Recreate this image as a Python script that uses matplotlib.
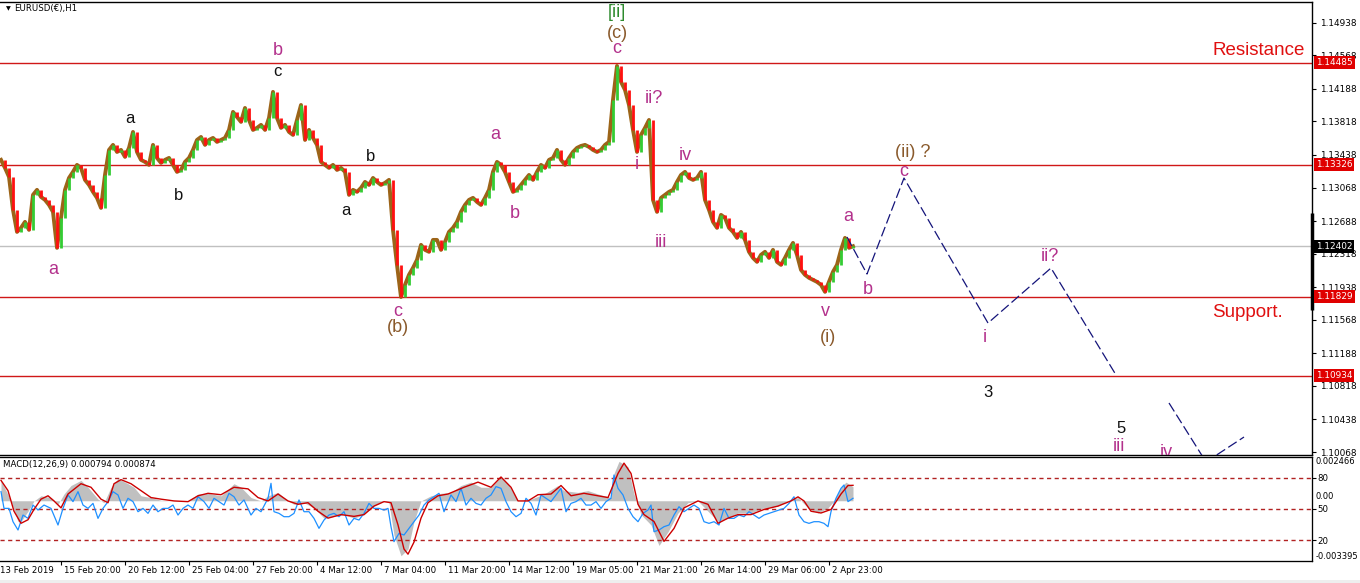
import numpy as np
import matplotlib.pyplot as plt
import matplotlib.transforms as mtransforms
from matplotlib.patches import Rectangle

plt.rcParams['font.family'] = ['DejaVu Sans']

# EURUSD H1 closes, every 4 bars (bar index = hour of trading)
bar_step = 4
closes = [
    1.13382, 1.13291, 1.13189, 1.12815, 1.12565, 1.12611, 1.12679, 1.12588, 1.12985, 1.13042,
    1.12962, 1.12928, 1.12871, 1.12792, 1.12384, 1.12724, 1.13042, 1.13177, 1.13246, 1.13325,
    1.13291, 1.13155, 1.13098, 1.13019, 1.12951, 1.12837, 1.13211, 1.13495, 1.13552, 1.13472,
    1.13495, 1.13416, 1.13518, 1.13699, 1.13472, 1.13382, 1.13359, 1.13325, 1.13552, 1.13404,
    1.13348, 1.13382, 1.13404, 1.13325, 1.13246, 1.13268, 1.13359, 1.13404, 1.13495, 1.13608,
    1.13642, 1.13552, 1.13608, 1.13631, 1.13586, 1.13608, 1.13631, 1.13722, 1.13926, 1.13869,
    1.13813, 1.13971, 1.13835, 1.13722, 1.13745, 1.13779, 1.13722, 1.13858, 1.14153, 1.13858,
    1.13745, 1.13779, 1.13699, 1.13665, 1.13835, 1.14005, 1.13608, 1.13722, 1.13631, 1.13552,
    1.13359, 1.13325, 1.13291, 1.13325, 1.13268, 1.13291, 1.13246, 1.12985, 1.13042, 1.13019,
    1.13064, 1.13132, 1.13098, 1.13177, 1.13132, 1.13098, 1.13121, 1.13155, 1.12588, 1.12191,
    1.11826, 1.11964, 1.12078, 1.12157, 1.12248, 1.12418, 1.12361, 1.12339, 1.12474, 1.12474,
    1.12361, 1.12452, 1.12565, 1.12611, 1.12679, 1.12792, 1.12871, 1.12928, 1.12951, 1.12905,
    1.12871, 1.12951, 1.13042, 1.13246, 1.13359, 1.13325, 1.13246, 1.13132, 1.13019, 1.13042,
    1.13098, 1.13155, 1.13211, 1.13155, 1.13246, 1.13325, 1.13291, 1.13382, 1.13404, 1.13495,
    1.13382, 1.13325, 1.13404, 1.13472, 1.13518, 1.13540, 1.13552, 1.13529, 1.13495, 1.13472,
    1.13495, 1.13552, 1.13586, 1.14062, 1.14448, 1.14267, 1.14176, 1.14005, 1.13722, 1.13472,
    1.13665, 1.13745, 1.13835, 1.12928, 1.12792, 1.12951, 1.12985, 1.13019, 1.13042, 1.13132,
    1.13211, 1.13246, 1.13177, 1.13155, 1.13177, 1.13246, 1.12928, 1.12815, 1.12679, 1.12611,
    1.12758, 1.12724, 1.12611, 1.12565, 1.12497, 1.12565, 1.12474, 1.12339, 1.12270, 1.12225,
    1.12305, 1.12339, 1.12270, 1.12361, 1.12225, 1.12191, 1.12270, 1.12361, 1.12440, 1.12305,
    1.12134, 1.12078, 1.12044, 1.12021, 1.11998, 1.11964, 1.11885, 1.11998, 1.12112, 1.12191,
    1.12361, 1.12497, 1.12384, 1.12402,
]

# MACD(12,26,9): main (grey histogram) and signal (red), in units of 0.001
hist_x = [0, 10, 17, 20, 27, 33, 40, 50, 57, 63, 70, 80, 87, 97, 103, 110, 117, 127, 133, 140,
          150, 160, 173, 187, 197, 207, 220, 233, 240, 250, 260, 267, 277, 287, 293, 303, 313, 323, 333, 343,
          353, 363, 373, 383, 388, 393, 400, 407, 413, 420, 430, 440, 450, 460, 470, 480, 490, 500, 507, 517,
          530, 543, 557, 563, 577, 587, 597, 610, 613, 618, 627, 633, 640, 650, 658, 667, 677, 687, 697, 707,
          717, 727, 737, 750, 763, 777, 787, 797, 807, 817, 827, 833, 840, 845, 852]
hist_milli = [1.15, 0.0, -1.17, -1.17, -0.59, -0.01, 0.28, 0.18, -0.20, 0.38, 0.86, 1.15, 0.76, 0.09, -0.11, 0.76, 1.25, 0.96, 0.76, 0.28,
              0.18, 0.03, -0.01, -0.01, 0.38, 0.42, 0.28, 0.96, 0.76, 0.18, -0.01, 0.28, 0.47, -0.01, -0.20, -0.11, -0.40, -0.98, -0.88, -0.78,
              -0.98, -0.78, -0.30, -0.01, -0.11, -1.94, -3.10, -2.72, -1.17, -0.01, 0.28, 0.42, 0.47, 0.86, 1.05, 0.76, 0.76, 1.34, 0.96, -0.01,
              0.09, 0.38, 0.86, 0.57, 0.47, 0.57, 0.38, 0.18, 1.54, 2.22, 1.92, 0.38, -0.78, -1.36, -2.52, -1.75, -0.69, -0.11, -0.01, -0.59,
              -1.17, -0.98, -0.69, -0.69, -0.40, -0.30, -0.01, 0.18, -0.40, -0.69, -0.40, -0.01, 0.76, 1.05, 0.79]
sig_x = [0, 7, 13, 20, 27, 33, 40, 47, 53, 60, 67, 80, 90, 100, 107, 113, 120, 130, 140, 150,
         160, 173, 187, 197, 207, 220, 233, 247, 257, 267, 277, 287, 297, 307, 317, 327, 340, 353, 363, 373,
         383, 390, 397, 403, 407, 413, 420, 427, 437, 447, 463, 477, 490, 500, 510, 517, 527, 537, 550, 560,
         570, 583, 597, 607, 617, 623, 630, 637, 643, 653, 663, 673, 683, 697, 707, 717, 727, 737, 750, 763,
         777, 790, 797, 803, 810, 820, 830, 840, 847, 852]
sig_milli = [1.15, 0.57, -0.59, -1.27, -1.07, -0.49, 0.09, 0.28, -0.01, -0.40, 0.38, 0.96, 0.76, 0.09, -0.11, 0.96, 1.19, 0.96, 0.57, 0.18,
             0.09, -0.01, -0.05, 0.28, 0.42, 0.34, 0.76, 0.67, 0.18, -0.01, 0.38, -0.01, -0.20, -0.11, -0.59, -0.98, -0.78, -0.88, -0.78, -0.30,
             -0.05, -0.11, -1.36, -2.72, -3.01, -2.33, -0.98, -0.11, 0.28, 0.38, 0.76, 1.05, 0.76, 1.34, 0.76, -0.01, -0.01, 0.34, 0.38, 0.86,
             0.28, 0.42, 0.28, 0.18, 1.54, 2.12, 1.54, -0.20, -0.78, -1.17, -2.29, -1.56, -0.40, -0.01, -0.20, -1.27, -0.98, -0.78, -0.78, -0.49,
             -0.30, -0.01, 0.22, -0.01, -0.59, -0.69, -0.49, 0.38, 0.86, 0.87]

# oscillator on the 0-100 scale (blue line, levels 80/50/20)
osc_x = [0, 3, 8, 12, 17, 22, 27, 32, 37, 43, 50, 57, 62, 67, 72, 77, 82, 87, 92, 97,
         102, 107, 112, 117, 122, 127, 132, 137, 142, 147, 152, 157, 162, 167, 172, 177, 182, 187, 192, 197,
         203, 208, 213, 218, 223, 228, 233, 238, 243, 250, 255, 260, 267, 270, 273, 278, 283, 288, 293, 298,
         303, 308, 313, 318, 323, 328, 333, 338, 343, 348, 353, 358, 363, 368, 373, 378, 383, 387, 390, 393,
         398, 403, 408, 413, 418, 423, 428, 433, 438, 443, 448,
         450, 455, 460, 465, 470, 475, 480, 485, 490, 495, 500, 505, 510, 515, 520, 525, 530, 535, 540, 545,
         550, 555, 560, 565, 570, 575, 580, 585, 590, 595, 600, 605, 610,
         613, 617, 622, 627, 632, 637, 642, 647, 650, 653, 658, 663, 668, 673, 678, 683, 688, 693, 698, 703,
         708, 713, 718, 723, 728, 733, 738, 743, 748, 753, 758, 763, 768, 773, 778, 783, 788, 793, 798, 803,
         808, 813, 818, 823, 827, 830, 835, 840, 843, 847, 852]
osc_vals = [66.7, 50.6, 50.6, 37.8, 29.8, 44.2, 41.0, 53.8, 49.0, 53.8, 50.6, 34.6, 50.6, 63.5, 57.1, 66.7, 53.8, 50.6, 55.4, 41.0,
            50.6, 57.1, 66.7, 63.5, 50.6, 60.3, 57.1, 47.4, 50.6, 45.8, 53.8, 47.4, 50.6, 50.6, 53.8, 44.2, 50.6, 53.8, 50.6, 61.8,
            57.1, 50.6, 60.3, 57.1, 53.8, 65.1, 61.8, 53.8, 58.7, 44.2, 50.6, 47.4, 60.3, 74.7, 47.4, 45.8, 42.6, 42.6, 45.8, 58.7,
            47.4, 47.4, 41.0, 31.4, 39.4, 44.2, 45.8, 42.6, 47.4, 34.6, 41.0, 39.4, 45.8, 55.4, 50.6, 50.6, 49.0, 50.6, 33.0, 18.6,
            26.6, 25.0, 31.4, 37.8, 44.2, 53.8, 58.7, 61.8, 65.1, 47.4, 58.7,
            63.5, 57.1, 69.9, 53.8, 60.3, 55.4, 53.8, 60.3, 63.5, 71.5, 69.9, 57.1, 47.4, 42.6, 45.8, 60.3, 55.4, 44.2, 63.5, 60.3,
            57.1, 63.5, 69.9, 47.4, 55.4, 57.1, 60.3, 53.8, 53.8, 57.1, 50.6, 57.1, 60.3,
            82.7, 69.9, 63.5, 50.6, 42.6, 37.8, 45.8, 49.0, 53.8, 28.2, 29.8, 33.0, 34.6, 44.2, 52.2, 47.4, 50.6, 53.8, 50.6, 37.8,
            36.2, 37.8, 34.6, 50.6, 41.0, 41.0, 44.2, 42.6, 47.4, 44.2, 41.0, 44.2, 45.8, 47.4, 49.0, 50.6, 55.4, 61.8, 44.2, 37.8,
            36.2, 37.8, 37.8, 36.2, 33.0, 47.4, 60.3, 69.9, 73.1, 57.1, 60.3]
osc_levels = [80, 50, 20]

price_ticks = [1.14938, 1.14568, 1.14188, 1.13818, 1.13438, 1.13068, 1.12688,
               1.12318, 1.11938, 1.11568, 1.11188, 1.10818, 1.10438, 1.10068]
sr_levels = [1.14485, 1.13326, 1.11829, 1.10934]
last_price = 1.12402
range_marker = [1.11679, 1.12779]

# projected wave path (dashed)
proj_a_x = [846, 866, 903, 987, 1050, 1115]
proj_a_y = [1.12507, 1.12087, 1.13176, 1.11531, 1.12155, 1.10942]
proj_b_x = [1168, 1205, 1243]
proj_b_y = [1.10624, 1.09955, 1.10238]

time_ticks = [-4, 60, 124, 188, 252, 316, 380, 444, 508, 572, 636, 700, 764, 828]
time_labels = ['13 Feb 2019', '15 Feb 20:00', '20 Feb 12:00', '25 Feb 04:00', '27 Feb 20:00',
               '4 Mar 12:00', '7 Mar 04:00', '11 Mar 20:00', '14 Mar 12:00', '19 Mar 05:00',
               '21 Mar 21:00', '26 Mar 14:00', '29 Mar 06:00', '2 Apr 23:00']

MAG, BRN, BLK, GRN = '#B3318C', '#8A5A2C', '#111111', '#2E8B2E'
wave_labels = [
    ('b', 277, 1.14628, MAG, 13), ('c', 276, 1.14379, BLK, 12), ('a', 129, 1.13846, BLK, 12),
    ('b', 178, 1.12983, BLK, 12), ('a', 52, 1.12144, MAG, 13), ('b', 370, 1.13415, BLK, 12),
    ('a', 345, 1.12813, BLK, 12), ('c', 397, 1.11667, MAG, 13), ('(b)', 397, 1.11475, BRN, 13),
    ('a', 494, 1.13675, MAG, 13), ('b', 514, 1.12779, MAG, 13), ('[ii]', 616, 1.15059, GRN, 13),
    ('(c)', 616, 1.14821, BRN, 13), ('c', 616, 1.14640, MAG, 13), ('ii?', 653, 1.14073, MAG, 13),
    ('i', 636, 1.13335, MAG, 13), ('iv', 684, 1.13437, MAG, 13), ('iii', 660, 1.12450, MAG, 13),
    ('a', 847, 1.12734, MAG, 13), ('b', 867, 1.11917, MAG, 13), ('v', 824, 1.11667, MAG, 13),
    ('(i)', 827, 1.11372, BRN, 13), ('(ii) ?', 912, 1.13471, BRN, 13), ('c', 903, 1.13245, MAG, 13),
    ('i', 984, 1.11372, MAG, 13), ('ii?', 1049, 1.12291, MAG, 13), ('3', 987, 1.10738, BLK, 12),
    ('5', 1120, 1.10329, BLK, 12), ('iii', 1118, 1.10125, MAG, 13), ('iv', 1165, 1.10068, MAG, 13),
]

W, H = 1360, 583
fig = plt.figure(figsize=(W / 100, H / 100), dpi=100)
fig.patch.set_facecolor('white')
ax = fig.add_axes([0, 1 - 455 / H, 1312 / W, 453 / H])
mx = fig.add_axes([0, 1 - 561 / H, 1312 / W, 104 / H])

# ---- price panel
closes = np.array(closes)
bars = np.arange(len(closes)) * bar_step
opens = np.r_[closes[0], closes[:-1]]
up = closes >= opens
ax.plot(bars, closes, color='#9C6418', lw=2.8, zorder=3)
ax.vlines(bars[up], opens[up], closes[up], color='#33CC33', lw=2.0, zorder=4)
ax.vlines(bars[~up], closes[~up], opens[~up], color='#FF1010', lw=2.0, zorder=4)

for lv in sr_levels:
    ax.axhline(lv, color='#D01818', lw=1, zorder=2)
ax.axhline(last_price, color='#C0C0C0', lw=1, zorder=1)

ax.plot(proj_a_x, proj_a_y, color='#14147A', lw=0.9, dashes=(8, 3), zorder=5)
ax.plot(proj_b_x, proj_b_y, color='#14147A', lw=0.9, dashes=(8, 3), zorder=5)

for txt, x, y, c, fs in wave_labels:
    ax.text(x, y, txt, color=c, fontsize=fs, family='Liberation Sans',
            ha='center', va='center', zorder=6, clip_on=True)
ax.text(1258, 1.14628, 'Resistance', color='#E01010', fontsize=13.5,
        family='Liberation Sans', ha='center', va='center')
ax.text(1246, 1.11645, 'Support.', color='#E01010', fontsize=13.5,
        family='Liberation Sans', ha='center', va='center')

ax.set_xlim(-1, 1311)
ax.set_ylim(1.10034, 1.15173)
ax.set_xticks([])
ax.yaxis.tick_right()
ax.set_yticks(price_ticks)
ax.set_yticklabels([f'{v:.5f}' for v in price_ticks])
ax.tick_params(axis='y', direction='out', length=3, pad=3, labelsize=6.4, width=0.8)
ax.spines['left'].set_visible(False)
for s in ['top', 'bottom', 'right']:
    ax.spines[s].set_linewidth(1)

right_tr = mtransforms.blended_transform_factory(ax.transAxes, ax.transData)
off = mtransforms.ScaledTranslation(4 / 100, 0, fig.dpi_scale_trans)
for lv in sr_levels:
    ax.text(1.0, lv, f'{lv:.5f}', transform=right_tr + off, color='white', fontsize=6.4,
            ha='left', va='center', clip_on=False, zorder=10,
            bbox=dict(boxstyle='square,pad=0.22', fc='#E00000', ec='none'))
ax.text(1.0, last_price, f'{last_price:.5f}', transform=right_tr + off, color='white', fontsize=6.4,
        ha='left', va='center', clip_on=False, zorder=10,
        bbox=dict(boxstyle='square,pad=0.22', fc='black', ec='none'))
ax.plot([1.0, 1.0], range_marker, transform=right_tr, color='black', lw=2.5,
        clip_on=False, zorder=9, solid_capstyle='butt')

# ---- MACD panel
hist = np.array(hist_milli) * 1e-3
sig = np.array(sig_milli) * 1e-3
mx.fill_between(hist_x, 0, hist, color='#C0C0C0', lw=0, zorder=1)
mx.set_xlim(-1, 1311)
mx.set_ylim(-0.003395, 0.002466)
mx.spines['left'].set_visible(False)

osc = mx.twinx()
osc.set_ylim(0, 100)
for lv in osc_levels:
    osc.axhline(lv, color='#B22222', lw=1, dashes=(3, 2.5))
osc.plot(osc_x, osc_vals, color='#1E90FF', lw=0.9)
osc.set_yticks(osc_levels)
osc.set_yticklabels([str(v) for v in osc_levels])
osc.tick_params(axis='y', direction='out', length=3, pad=1, labelsize=6.2, width=0.8)
osc.spines['left'].set_visible(False)

sg = mx.twinx()
sg.set_ylim(-0.003395, 0.002466)
sg.plot(sig_x, sig, color='#CC0000', lw=1.0)
sg.set_yticks([])
sg.spines['left'].set_visible(False)

mx.set_yticks([])
mtr = mtransforms.blended_transform_factory(mx.transAxes, mx.transData)
off2 = mtransforms.ScaledTranslation(4 / 100, 0, fig.dpi_scale_trans)
mx.text(1.0, 0.002466, '0.002466', transform=mtr + off2, fontsize=6.0, ha='left', va='top', clip_on=False)
mx.text(1.0, 0.0, '0.00', transform=mtr + off2, fontsize=6.0, ha='left', va='bottom', clip_on=False)
mx.text(1.0, -0.003395, '-0.003395', transform=mtr + off2, fontsize=6.0, ha='left', va='bottom', clip_on=False)

mx.set_xticks(time_ticks[1:])
mx.set_xticklabels([])
mx.tick_params(axis='x', direction='out', length=3, width=0.8)
xt = mtransforms.blended_transform_factory(mx.transData, mx.transAxes)
off3 = mtransforms.ScaledTranslation(3 / 100, 0, fig.dpi_scale_trans)
for t, lab in zip(time_ticks, time_labels):
    mx.text(t, -0.095, lab, transform=xt + off3, fontsize=6.2, ha='left', va='center', clip_on=False)

fig.text(3 / W, 1 - 465 / H, 'MACD(12,26,9) 0.000794 0.000874', fontsize=6.2, va='center')
fig.text(8 / W, 1 - 9 / H, '\u25bc', fontsize=4.5, ha='center', va='center')
fig.text(14 / W, 1 - 9 / H, 'EURUSD(\u20ac),H1', fontsize=6.2, va='center')
fig.patches.append(Rectangle((0, 0), 1, 3 / H, transform=fig.transFigure, fc='#EEEEEE', ec='none'))

fig.savefig('out.png', dpi=100)
